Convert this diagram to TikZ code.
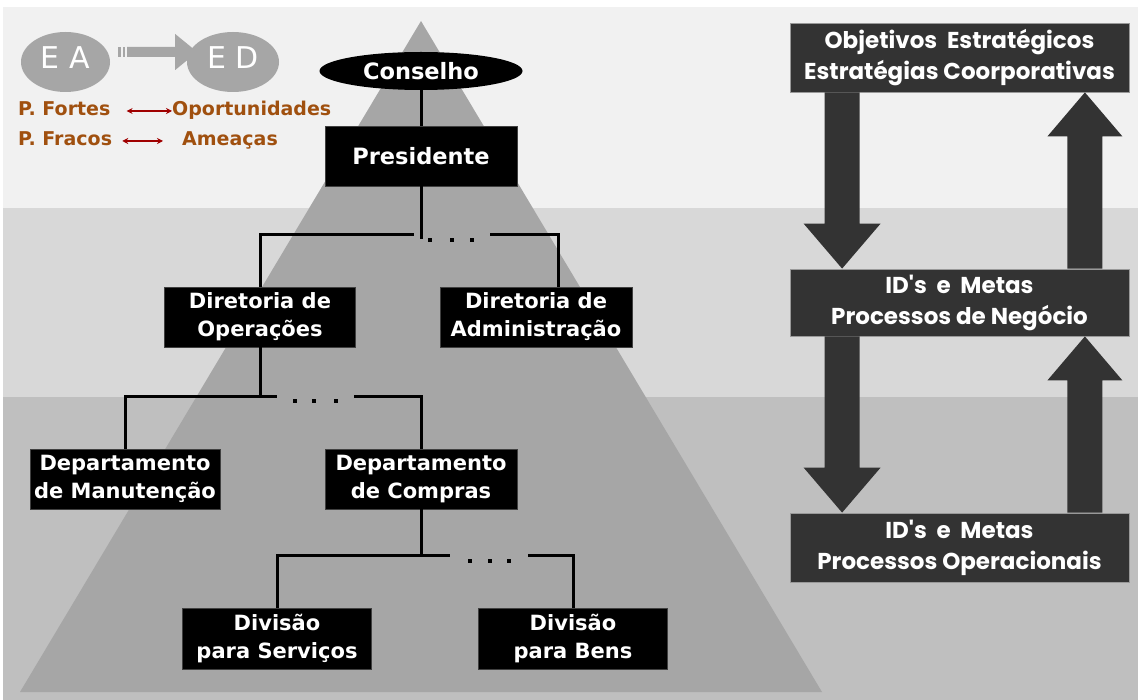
\documentclass[tikz,border=0pt]{standalone}
\usepackage{fontspec}
\setmainfont{DejaVu Sans}
\newfontfamily\comicfont{Poppins}
\usetikzlibrary{shapes.geometric,arrows.meta,calc}
\definecolor{bandA}{HTML}{F1F1F1}
\definecolor{bandB}{HTML}{D8D8D8}
\definecolor{bandC}{HTML}{BFBFBF}
\definecolor{pyr}{HTML}{A6A6A6}
\definecolor{dark}{HTML}{333333}
\definecolor{brown}{HTML}{A0500F}
\definecolor{redarr}{HTML}{A00000}
\tikzset{
  orgbox/.style={rectangle, fill=black, draw=black!75, line width=0.8pt, text=white, align=center,
    font=\fontsize{21}{28}\selectfont\bfseries, inner sep=0pt},
  rbox/.style={rectangle, fill=dark, draw=black!40, line width=0.8pt, text=white, align=center,
    minimum width=339pt, font=\comicfont\fontsize{23}{31}\selectfont\bfseries, inner sep=0pt},
  conn/.style={draw=black, line width=3pt},
  barrow/.style={fill=dark},
  circ/.style={ellipse, fill=pyr, text=white, inner sep=0pt, font=\fontsize{30}{32}\selectfont},
  brtext/.style={text=brown, inner sep=0pt, font=\fontsize{19}{22}\selectfont\bfseries, text height=14pt, text depth=4pt},
  brarr/.style={draw=redarr, line width=1.6pt, {Stealth[length=6pt,width=6pt]}-{Stealth[length=6pt,width=6pt]}},
  dotsq/.style={fill=black}
}
\newcommand{\blkdown}[2]{%
  \fill[barrow] ($(#1)+(-17.5,0)$) -- ($(#2)+(-17.5,-45)$) -- ($(#2)+(-38.5,-45)$) -- (#2)
    -- ($(#2)+(38.5,-45)$) -- ($(#2)+(17.5,-45)$) -- ($(#1)+(17.5,0)$) -- cycle;}
\newcommand{\blkup}[2]{%
  \fill[barrow] ($(#1)+(-17.5,0)$) -- ($(#2)+(-17.5,44)$) -- ($(#2)+(-37.5,44)$) -- (#2)
    -- ($(#2)+(37.5,44)$) -- ($(#2)+(17.5,44)$) -- ($(#1)+(17.5,0)$) -- cycle;}
\begin{document}
\begin{tikzpicture}[x=1pt,y=-1pt]
\useasboundingbox (0,0) rectangle (1138,700);
% background bands
\fill[white] (0,0) rectangle (1138,700);
\fill[bandA] (3,7) rectangle (1138,208);
\fill[bandB] (3,208) rectangle (1138,397);
\fill[bandC] (3,397) rectangle (1138,700);
% pyramid
\fill[pyr] (421,21) -- (822,692) -- (20,692) -- cycle;

% top-left
\node[circ, minimum width=89pt, minimum height=60pt] (ea) at (65.5,62) {\raisebox{8pt}{E A}};
\node[circ, minimum width=92pt, minimum height=60pt] (ed) at (233,62) {\raisebox{8pt}{E D}};
\coordinate (eaar) at ($(ea.east)+(8,-10)$);
\fill[pyr] (eaar) ++(0,-5) rectangle ++(3,10);
\fill[pyr] (eaar) ++(5,-5) rectangle ++(2,10);
\fill[pyr] (eaar) ++(9,-5) -- ++(48,0) -- ++(0,-13) -- ++(22,18) -- ++(-22,18) -- ++(0,-13) -- ++(-48,0) -- cycle;

\node[brtext, anchor=base west] (pfortes) at (18,116) {P. Fortes};
\node[brtext, anchor=base west] (oport) at (172,116) {Oportunidades};
\node[brtext, anchor=base west] (pfracos) at (18,146) {P. Fracos};
\node[brtext, anchor=base west] (ameacas) at (182,146) {Ameaças};
\draw[brarr, shorten <=16pt, shorten >=0pt] (pfortes) -- (oport);
\draw[brarr, shorten <=10pt, shorten >=19pt] (pfracos) -- (ameacas);

% org chart
\node[ellipse, fill=black, text=white, minimum width=203pt, minimum height=38pt, inner sep=0pt,
  font=\fontsize{22.5}{26}\selectfont\bfseries] (cons) at (421,71) {Conselho};
\node[orgbox, minimum width=192pt, minimum height=60pt, font=\fontsize{22.5}{28}\selectfont\bfseries] (pres) at (421,156) {Presidente};
\node[orgbox, minimum width=191pt, minimum height=60pt] (dirop) at (260,317) {Diretoria de\\Operações};
\node[orgbox, minimum width=192pt, minimum height=60pt] (diradm) at (536,317) {Diretoria de\\Administração};
\node[orgbox, minimum width=190pt, minimum height=60pt] (depman) at (125,479) {Departamento\\de Manutenção};
\node[orgbox, minimum width=192pt, minimum height=60pt] (depcomp) at (421,479) {Departamento\\de Compras};
\node[orgbox, minimum width=189pt, minimum height=61pt] (divserv) at (277,638.5) {Divisão\\para Serviços};
\node[orgbox, minimum width=189pt, minimum height=61pt] (divbens) at (573,638.5) {Divisão\\para Bens};

\draw[conn] (cons.south) -- (pres.north);
\draw[conn] (pres.south) -- ++(0,53);
\coordinate (h1l) at (414,235);
\coordinate (h1r) at (490,235);
\draw[conn] (dirop.north) |- (h1l);
\draw[conn] ($(diradm.north)+(22,0)$) |- (h1r);
\fill[dotsq] (428,238) rectangle ++(4,4);
\fill[dotsq] (450,238) rectangle ++(4,4);
\fill[dotsq] (470,238) rectangle ++(4,4);

\draw[conn] (dirop.south) -- ++(0,50);
\coordinate (h2l) at (277,397);
\coordinate (h2r) at (354,397);
\draw[conn] (depman.north) |- (h2l);
\draw[conn] (depcomp.north) |- (h2r);
\fill[dotsq] (293,399) rectangle ++(4,4);
\fill[dotsq] (312,399) rectangle ++(4,4);
\fill[dotsq] (334,399) rectangle ++(4,4);

\draw[conn] (depcomp.south) -- ++(0,46);
\coordinate (h3l) at (450,555);
\coordinate (h3r) at (528,555);
\draw[conn] (divserv.north) |- (h3l);
\draw[conn] (divbens.north) |- (h3r);
\fill[dotsq] (468,559) rectangle ++(4,4);
\fill[dotsq] (488,559) rectangle ++(4,4);
\fill[dotsq] (507,559) rectangle ++(4,4);

% right side
\node[rbox, minimum height=69pt] (obj) at (959.5,57.5) {Objetivos\ \ Estratégicos\\Estratégias Coorporativas};
\node[rbox, minimum height=67pt] (idneg) at (959.5,302.5) {ID's\ \ e\ \ Metas\\Processos de Negócio};
\node[rbox, minimum height=69pt] (idop) at (959.5,547.5) {ID's\ \ e\ \ Metas\\Processos Operacionais};

\coordinate (d1s) at ($(obj.south west)+(52.5,0)$);
\coordinate (d1t) at ($(idneg.north west)+(52.5,0)$);
\coordinate (u1s) at ($(idneg.north east)+(-44.5,0)$);
\coordinate (u1t) at ($(obj.south east)+(-44.5,0)$);
\coordinate (d2s) at ($(idneg.south west)+(52.5,0)$);
\coordinate (d2t) at ($(idop.north west)+(52.5,0)$);
\coordinate (u2s) at ($(idop.north east)+(-44.5,0)$);
\coordinate (u2t) at ($(idneg.south east)+(-44.5,0)$);
\blkdown{d1s}{d1t}
\blkup{u1s}{u1t}
\blkdown{d2s}{d2t}
\blkup{u2s}{u2t}
\end{tikzpicture}
\end{document}
